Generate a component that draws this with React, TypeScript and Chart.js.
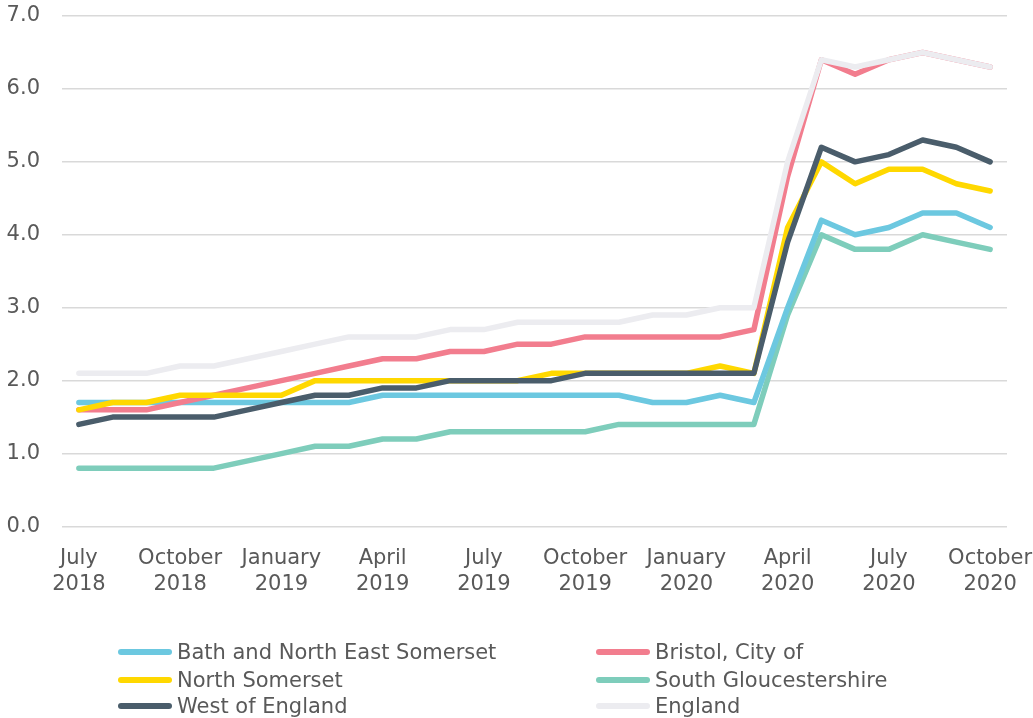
import React, { useEffect, useRef } from "react";
import { Chart, registerables } from "chart.js";

Chart.register(...registerables);

const categories = [
  "July 2018", "August 2018", "September 2018", "October 2018", "November 2018", "December 2018",
  "January 2019", "February 2019", "March 2019", "April 2019", "May 2019", "June 2019",
  "July 2019", "August 2019", "September 2019", "October 2019", "November 2019", "December 2019",
  "January 2020", "February 2020", "March 2020", "April 2020", "May 2020", "June 2020",
  "July 2020", "August 2020", "September 2020", "October 2020",
];

const bathNES = [1.7, 1.7, 1.7, 1.7, 1.7, 1.7, 1.7, 1.7, 1.7, 1.8, 1.8, 1.8, 1.8, 1.8, 1.8, 1.8, 1.8, 1.7, 1.7, 1.8, 1.7, 3.0, 4.2, 4.0, 4.1, 4.3, 4.3, 4.1];
const bristol = [1.6, 1.6, 1.6, 1.7, 1.8, 1.9, 2.0, 2.1, 2.2, 2.3, 2.3, 2.4, 2.4, 2.5, 2.5, 2.6, 2.6, 2.6, 2.6, 2.6, 2.7, 4.8, 6.4, 6.2, 6.4, 6.5, 6.4, 6.3];
const northSomerset = [1.6, 1.7, 1.7, 1.8, 1.8, 1.8, 1.8, 2.0, 2.0, 2.0, 2.0, 2.0, 2.0, 2.0, 2.1, 2.1, 2.1, 2.1, 2.1, 2.2, 2.1, 4.1, 5.0, 4.7, 4.9, 4.9, 4.7, 4.6];
const southGlos = [0.8, 0.8, 0.8, 0.8, 0.8, 0.9, 1.0, 1.1, 1.1, 1.2, 1.2, 1.3, 1.3, 1.3, 1.3, 1.3, 1.4, 1.4, 1.4, 1.4, 1.4, 2.9, 4.0, 3.8, 3.8, 4.0, 3.9, 3.8];
const westOfEngland = [1.4, 1.5, 1.5, 1.5, 1.5, 1.6, 1.7, 1.8, 1.8, 1.9, 1.9, 2.0, 2.0, 2.0, 2.0, 2.1, 2.1, 2.1, 2.1, 2.1, 2.1, 3.9, 5.2, 5.0, 5.1, 5.3, 5.2, 5.0];
const england = [2.1, 2.1, 2.1, 2.2, 2.2, 2.3, 2.4, 2.5, 2.6, 2.6, 2.6, 2.7, 2.7, 2.8, 2.8, 2.8, 2.8, 2.9, 2.9, 3.0, 3.0, 5.0, 6.4, 6.3, 6.4, 6.5, 6.4, 6.3];

const seriesNames = ["Bath and North East Somerset", "Bristol, City of", "North Somerset", "South Gloucestershire", "West of England", "England"];
const seriesData = [bathNES, bristol, northSomerset, southGlos, westOfEngland, england];
const seriesColors = ["#6CC8E0", "#F27D8E", "#FFD800", "#7ECDBB", "#4A5D6B", "#ECECF0"];
const seriesOrder = [4, 3, 2, 5, 1, 0];

const FONT = "'DejaVu Sans', sans-serif";
const TEXT = "#595959";

export default function App() {
  const ref = useRef<HTMLCanvasElement | null>(null);

  useEffect(() => {
    if (!ref.current) return;
    const chart = new Chart(ref.current, {
      type: "line",
      data: {
        labels: categories,
        datasets: seriesNames.map((name, i) => ({
          label: name,
          data: seriesData[i],
          borderColor: seriesColors[i],
          backgroundColor: seriesColors[i],
          borderWidth: 5.5,
          pointRadius: 0,
          tension: 0,
          borderCapStyle: "round" as const,
          borderJoinStyle: "round" as const,
          order: seriesOrder[i],
          fill: false,
        })),
      },
      options: {
        responsive: false,
        animation: false,
        layout: { padding: { top: 16, right: 26, bottom: 101, left: 0 } },
        plugins: { legend: { display: false }, tooltip: { enabled: false } },
        scales: {
          x: {
            offset: true,
            afterFit: (s: any) => { s.paddingLeft = 0; s.paddingRight = 0; },
            grid: { display: false, drawTicks: false },
            border: { display: false },
            ticks: {
              autoSkip: false,
              maxRotation: 0,
              padding: 19,
              color: TEXT,
              font: { family: FONT, size: 21, lineHeight: 1.25 },
              callback: (_v: any, idx: number) => {
                if (idx % 3 !== 0) return "";
                const parts = categories[idx].split(" ");
                return [parts[0], parts[1]];
              },
            },
          },
          y: {
            min: 0,
            max: 7,
            afterFit: (s: any) => { s.width = 62; s.paddingTop = 0; s.paddingBottom = 0; },
            grid: { color: "#D9D9D9", lineWidth: 1.5, drawTicks: false },
            border: { display: false },
            ticks: {
              stepSize: 1,
              padding: 22,
              color: TEXT,
              font: { family: FONT, size: 21 },
              callback: (v: any) => Number(v).toFixed(1),
            },
          },
        },
      },
    });
    return () => chart.destroy();
  }, []);

  const legendRows = [[0, 1], [2, 3], [4, 5]];
  const rowY = [652, 680, 706];
  const colX = [118, 596];

  return (
    <div style={{ position: "fixed", left: 0, top: 0, width: 1033, height: 718, background: "#fff", overflow: "hidden" }}>
      <canvas ref={ref} width={1033} height={718} style={{ position: "absolute", left: 0, top: 0, width: 1033, height: 718 }} />
      {legendRows.map((row, r) =>
        row.map((si, c) => (
          <div key={si} style={{ position: "absolute", left: colX[c], top: rowY[r] - 14, height: 28, display: "flex", alignItems: "center", fontFamily: FONT, fontSize: 21, color: TEXT, whiteSpace: "nowrap" }}>
            <span style={{ display: "inline-block", width: 54, height: 6, borderRadius: 3, background: seriesColors[si], marginRight: 5 }} />
            <span>{seriesNames[si]}</span>
          </div>
        ))
      )}
    </div>
  );
}
